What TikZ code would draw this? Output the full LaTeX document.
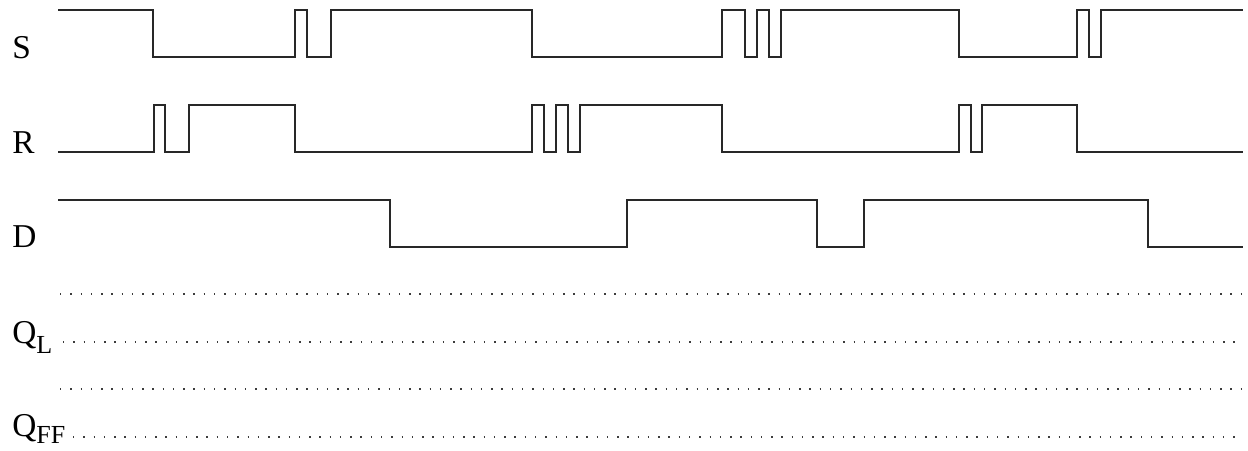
\documentclass[tikz,border=0pt]{standalone}
\usepackage{fontspec}
\setmainfont{Liberation Serif}
\usepackage{tikz}

\newcommand{\sigsub}[3][7.5pt]{#2\raisebox{-#1}{\fontsize{19.5}{22}\selectfont #3}}

\tikzset{
  wave/.style={line width=0.9pt, color={rgb, 255:red, 40; green, 40; blue, 40}, line join=miter},
  unknown/.style={line width=1pt, color={rgb, 255:red, 60; green, 60; blue, 60}, dash pattern=on 1.1pt off 6.6pt},
  siglabel/.style={anchor=base west, inner sep=0pt, font=\fontsize{25}{30}\selectfont}
}

\begin{document}
\begin{tikzpicture}[x=0.75pt,y=0.75pt,yscale=-1]
\useasboundingbox (0,0) rectangle (1248,450);

% Text Node
\node [siglabel] (lblS) at (12,58) {S};
% Text Node
\node [siglabel] (lblR) at (12,153) {R};
% Text Node
\node [siglabel] (lblD) at (12,247) {D};
% Text Node
\node [siglabel] (lblQL) at (12,343) {\sigsub{Q}{L}};
% Text Node
\node [siglabel] (lblQFF) at (12,436) {\sigsub[5.5pt]{Q}{FF}};

%Shape: Wave S
\draw [wave] (58,10) -- (153,10) -- (153,57) -- (295,57) -- (295,10) -- (307,10) -- (307,57) -- (331,57) -- (331,10) -- (532,10) -- (532,57) -- (722,57) -- (722,10) -- (745,10) -- (745,57) -- (757,57) -- (757,10) -- (769,10) -- (769,57) -- (781,57) -- (781,10) -- (959,10) -- (959,57) -- (1077,57) -- (1077,10) -- (1089,10) -- (1089,57) -- (1101,57) -- (1101,10) -- (1243,10) ;
%Shape: Wave R
\draw [wave] (58,152) -- (154,152) -- (154,105) -- (165,105) -- (165,152) -- (189,152) -- (189,105) -- (295,105) -- (295,152) -- (532,152) -- (532,105) -- (544,105) -- (544,152) -- (556,152) -- (556,105) -- (568,105) -- (568,152) -- (580,152) -- (580,105) -- (722,105) -- (722,152) -- (959,152) -- (959,105) -- (971,105) -- (971,152) -- (982,152) -- (982,105) -- (1077,105) -- (1077,152) -- (1243,152) ;
%Shape: Wave D
\draw [wave] (58,200) -- (390,200) -- (390,247) -- (627,247) -- (627,200) -- (817,200) -- (817,247) -- (864,247) -- (864,200) -- (1148,200) -- (1148,247) -- (1243,247) ;

%Shape: Dotted Q_L
\draw [unknown] (60,294) -- (1243,294) ;
\draw [unknown] (63,342) -- (1243,342) ;
%Shape: Dotted Q_FF
\draw [unknown] (60,389) -- (1243,389) ;
\draw [unknown] (73,437) -- (1236,437) ;
\end{tikzpicture}
\end{document}
